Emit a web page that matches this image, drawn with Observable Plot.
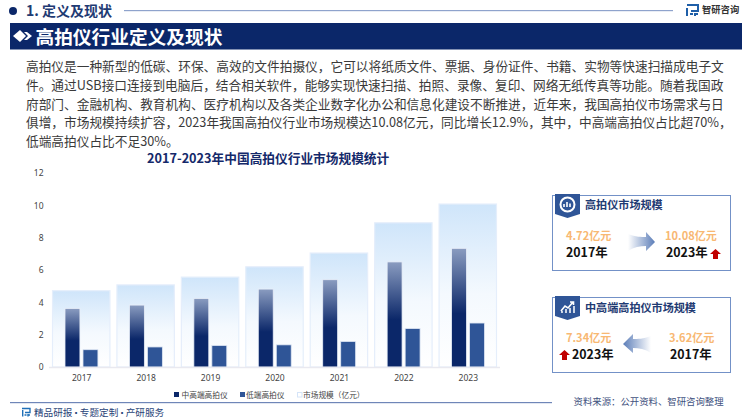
<!DOCTYPE html>
<html lang="zh">
<head>
<meta charset="utf-8">
<script src="https://cdn.jsdelivr.net/npm/d3@7"></script>
<script src="https://cdn.jsdelivr.net/npm/@observablehq/plot@0.6"></script>
<style>
html,body{margin:0;padding:0;background:#fff;width:750px;height:420px;overflow:hidden;font-family:"Noto Sans CJK SC","Noto Sans",sans-serif;}
.a{position:absolute;white-space:nowrap;line-height:1;}
.line{color:#3a3a3a;font-size:12.7px;left:26px;}
.panel{position:absolute;left:552px;width:177px;height:74px;border:1.3px solid #7391c7;box-sizing:content-box;}
.val{color:#f8b873;font-weight:700;font-size:11.05px;}
.yr{color:#111;font-weight:700;font-size:12.4px;}
.pt{color:#1f3b73;font-weight:700;font-size:11.1px;}
.lg{font-size:7.7px;color:#444;}
svg.icon{position:absolute;overflow:visible;}
</style>
</head>
<body>
<script>
const sectionTitle = "1. 定义及现状";
const bannerTitle = "高拍仪行业定义及现状";
const brand = "智研咨询";
const bodyLines = [
  "高拍仪是一种新型的低碳、环保、高效的文件拍摄仪，它可以将纸质文件、票据、身份证件、书籍、实物等快速扫描成电子文",
  "件。通过USB接口连接到电脑后，结合相关软件，能够实现快速扫描、拍照、录像、复印、网络无纸传真等功能。随着我国政",
  "府部门、金融机构、教育机构、医疗机构以及各类企业数字化办公和信息化建设不断推进，近年来，我国高拍仪市场需求与日",
  "俱增，市场规模持续扩容，2023年我国高拍仪行业市场规模达10.08亿元，同比增长12.9%，其中，中高端高拍仪占比超70%，",
  "低端高拍仪占比不足30%。"
];
const chartTitle = "2017-2023年中国高拍仪行业市场规模统计";
const years = ["2017","2018","2019","2020","2021","2022","2023"];
const marketSize = [4.72,5.08,5.56,6.2,7.05,8.92,10.08];
const highEnd = [3.62,3.83,4.24,4.82,5.4,6.5,7.34];
const lowEnd = [1.07,1.24,1.33,1.37,1.58,2.38,2.72];
const yTicks = [0,2,4,6,8,10,12];
const legendLabels = ["中高端高拍仪","低端高拍仪","市场规模（亿元）"];
const footerLeft = "精品研报 · 专题定制 · 产研服务";
const footerRight = "资料来源：公开资料、智研咨询整理";

const rows = years.map((year,i)=>({year,market:marketSize[i],high:highEnd[i],low:lowEnd[i]}));

function put(text,cls,style){
  const d=document.createElement("div");
  d.className="a "+cls;d.textContent=text;d.style.cssText=style;
  document.body.appendChild(d);return d;
}
function icon(x,y,w,h,inner){
  const wrap=document.createElement("div");
  wrap.innerHTML=`<svg class="icon" style="left:${x}px;top:${y}px" width="${w}" height="${h}" viewBox="0 0 ${w} ${h}">${inner}</svg>`;
  document.body.appendChild(wrap.firstChild);
}

// Header
icon(8,6,10,10,'<circle cx="5" cy="5" r="4" fill="#0b2769"/>');
put(sectionTitle,"","left:26px;top:3px;font-size:14px;font-weight:700;color:#1f3b73;");
icon(124,9,549,3,'<rect width="549" height="1.2" y="1" fill="#8fa3cc"/>');
icon(687,5,12,12,'<path d="M0 0H11V6H4M0 3V11M3 9H6M8 8V11M7 9H11" fill="none" stroke="#1f5fa8" stroke-width="2"/>');
put(brand,"","left:702px;top:5px;font-size:9.3px;font-weight:700;color:#333;");
// Banner
icon(9.5,23,732,26.5,'<rect width="732" height="26.5" fill="#0b2769"/><path d="M3 13L10 7L16 13L10 19Z" fill="#fff"/><path d="M14 9H17L22 13L17 17H14L18 13Z" fill="#fff"/>');
put(bannerTitle,"","left:35.5px;top:26.5px;font-size:18.7px;font-weight:700;color:#fff;");
// Body
const lineTops=[60,79,97.5,116,135];
bodyLines.forEach((t,i)=>put(t,"line",`top:${lineTops[i]}px`));
// Chart title
put(chartTitle,"",'left:147px;top:151.5px;font-size:12.7px;font-weight:700;color:#14296a;');

// Chart
const chart = Plot.plot({
  width:520,height:225,
  marginTop:8,marginBottom:23,marginLeft:49,marginRight:20,
  style:{fontFamily:'"Noto Sans","Noto Sans CJK SC",sans-serif',fontSize:"8.5px",color:"#444",background:"transparent"},
  x:{domain:years,padding:0,round:false,label:null},
  y:{domain:[0,12],label:null},
  marks:[
    () => {
      const defs=d3.create("svg:defs");
      const grad=(id,stops)=>{
        const g=defs.append("linearGradient").attr("id",id).attr("x1",0).attr("x2",0).attr("y1",0).attr("y2",1);
        stops.forEach(([o,c])=>g.append("stop").attr("offset",o).attr("stop-color",c));
      };
      grad("gMarket",[[0,"#cfe5fa"],[0.55,"#f4f9fe"],[1,"#ffffff"]]);
      grad("gHigh",[[0,"#8a9cc0"],[0.55,"#0b2769"],[1,"#0b2769"]]);
      return defs.node();
    },
    Plot.barY(rows,{x:"year",y:"market",insetLeft:3.5,insetRight:3.5,fill:"url(#gMarket)",stroke:"#e5eefb",strokeWidth:1.2}),
    Plot.barY(rows,{x:"year",y:"high",insetLeft:16,insetRight:33.5,fill:"url(#gHigh)",stroke:"#e8eef8",strokeWidth:0.8}),
    Plot.barY(rows,{x:"year",y:"low",insetLeft:34,insetRight:15.5,fill:"#2f5597",stroke:"#dfe7f4",strokeWidth:0.8}),
    Plot.ruleY([0],{stroke:"#e9e9f0",strokeWidth:1.6}),
    Plot.axisY({ticks:yTicks,tickSize:0,tickPadding:6,label:null,fill:"#444"}),
    Plot.axisX({tickSize:0,tickPadding:7,label:null,fill:"#444"})
  ]
});
chart.style.position="absolute";chart.style.left="0";chart.style.top="165px";
document.body.appendChild(chart);

// Legend
icon(174,392,5,5,'<rect width="5" height="5" fill="#0b2769"/>');
put(legendLabels[0],"lg","left:181.5px;top:390.5px;");
icon(239.5,392,5,5,'<rect width="5" height="5" fill="#2f5597"/>');
put(legendLabels[1],"lg","left:246px;top:390.5px;");
icon(296.5,392,5,5,'<rect x=".5" y=".5" width="4.5" height="4.5" fill="#fff" stroke="#d5e4f8"/>');
put(legendLabels[2],"lg","left:303px;top:390.5px;");

// Footer
icon(10,402,542,2,'<rect width="542" height="1.2" fill="#6f86b8"/>');
icon(22,408,9,9,'<path d="M0 .5H8V4.5H3M.7 2V8.5M2.5 7H4.5M6 6V8.5M5.5 7H8" fill="none" stroke="#1f6fb8" stroke-width="1.4"/>');
put(footerLeft,"","left:34px;top:408px;font-size:9.6px;word-spacing:-3.2px;color:#2a4478;");
put(footerRight,"","left:573.5px;top:397px;font-size:9.4px;color:#42527e;");

// Panels
const defs=`<defs>
<linearGradient id="aR" x1="0" x2="1" y1="0" y2="0"><stop offset="0" stop-color="#fff"/><stop offset="1" stop-color="#5b7db8"/></linearGradient>
<linearGradient id="aL" x1="1" x2="0" y1="0" y2="0"><stop offset="0" stop-color="#fff"/><stop offset="1" stop-color="#5b7db8"/></linearGradient>
</defs>`;
function panel(top){
  const p=document.createElement("div");p.className="panel";p.style.top=top+"px";document.body.appendChild(p);
}
const badge='<path d="M0 0H25V20L12.5 24L0 20Z" fill="#2f5597"/>';
const up='<path d="M5.5 0L11 5H8V10H3V5H0Z" fill="#c00000"/>';

panel(195);
icon(555,194,25,24,badge+'<circle cx="12.5" cy="10.5" r="7" fill="none" stroke="#fff" stroke-width="2"/><path d="M9 13V10M12 13V8M15 13V9.5" stroke="#fff" stroke-width="1.6"/>');
put("高拍仪市场规模","pt","left:585px;top:199px;");
put("4.72亿元","val","left:566px;top:230px;");
put("2017年","yr","left:566px;top:246px;");
icon(628,231,28,22,defs+'<path d="M0 3C8 6 13 6 18 6V1L27 11L18 20V15C12 15 6 16 0 20Z" fill="url(#aR)"/>');
put("10.08亿元","val","left:665px;top:230px;");
put("2023年","yr","left:666px;top:246px;");
icon(710,249,11,10,up);

panel(297);
icon(555,296,25,24,badge+'<path d="M6 15L10 10L13 12L18 6M15 6H18.5V9" fill="none" stroke="#fff" stroke-width="1.6"/><path d="M7 17V15M11 17V13M15 17V12M19 17V10" stroke="#fff" stroke-width="1.5"/>');
put("中高端高拍仪市场规模","pt","left:585px;top:301.5px;");
put("7.34亿元","val","left:566px;top:332px;");
put("2023年","yr","left:572px;top:348px;");
icon(559,350,11,10,up);
icon(623,333,28,22,defs+'<path d="M28 3C20 6 15 6 10 6V1L0 11L10 20V15C16 15 22 16 28 20Z" fill="url(#aL)"/>');
put("3.62亿元","val","left:669px;top:332px;");
put("2017年","yr","left:670px;top:348px;");
</script>
</body>
</html>
